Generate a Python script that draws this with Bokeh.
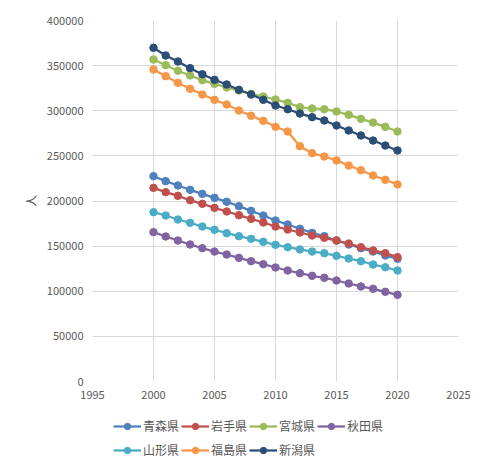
from bokeh.plotting import figure
from bokeh.layouts import column
from bokeh.models import Range1d, FixedTicker, NumeralTickFormatter, Legend, LegendItem
from bokeh.embed import file_html
from bokeh.resources import INLINE

years = list(range(2000, 2021))

aomori = [227500, 222000, 217200, 212400, 207900, 203500, 199100, 194300, 189100, 183900, 178400,
          174000, 169200, 164700, 161000, 156200, 151800, 147700, 144000, 139600, 135900]
iwate = [214600, 209800, 205700, 200900, 196900, 192400, 188400, 184300, 180200, 176200, 171700,
         168400, 165100, 161800, 159200, 156200, 152900, 148800, 145200, 142200, 137800]
miyagi = [356800, 350500, 344300, 339100, 333900, 329800, 325800, 322400, 318800, 315800, 312500,
          308800, 304000, 302500, 301700, 299200, 295500, 291000, 286900, 282200, 277000]
akita = [165500, 160700, 156200, 151800, 147700, 144000, 140700, 137000, 133300, 130000, 126300,
         123000, 120000, 117100, 114900, 111900, 108600, 105300, 102700, 99400, 96000]
yamagata = [187600, 183900, 179500, 175800, 171700, 168100, 164400, 161000, 158100, 154800, 151400,
            148800, 146300, 144000, 142200, 139200, 136300, 133300, 129600, 126600, 123000]
fukushima = [345700, 338300, 330900, 324300, 318000, 312100, 306900, 300300, 294400, 288800, 282200,
             277000, 260700, 253000, 249300, 245000, 239300, 234100, 228300, 223500, 218300]
niigata = [369700, 361200, 354600, 347200, 340500, 334300, 329100, 323200, 318000, 312100, 305800,
           301700, 296900, 292900, 289200, 283700, 278100, 272600, 267000, 261500, 256000]

names = ["青森県", "岩手県", "宮城県", "秋田県", "山形県", "福島県", "新潟県"]
series = [aomori, iwate, miyagi, akita, yamagata, fukushima, niigata]
colors = ["#4F81BD", "#C0504D", "#9BBB59", "#8064A2", "#4BACC6", "#F79646", "#2C4D75"]

x_ticks = [1995, 2000, 2005, 2010, 2015, 2020, 2025]
y_ticks = [0, 50000, 100000, 150000, 200000, 250000, 300000, 350000, 400000]

FONT = "Noto Sans CJK JP"

p = figure(width=480, height=406, output_backend="svg", toolbar_location=None,
           x_range=Range1d(1995, 2025), y_range=Range1d(0, 400000),
           min_border_left=92, min_border_right=22, min_border_top=20, min_border_bottom=25)
p.outline_line_color = None
p.background_fill_color = "white"
p.border_fill_color = "white"

for ax in (p.xaxis, p.yaxis):
    ax.axis_line_color = None
    ax.major_tick_line_color = None
    ax.minor_tick_line_color = None
    ax.major_tick_out = 0
    ax.major_tick_in = 0
    ax.major_label_text_color = "#595959"
    ax.major_label_text_font = FONT
    ax.major_label_text_font_size = "11px"
    ax.major_label_standoff = 9

p.xaxis.ticker = FixedTicker(ticks=x_ticks)
p.yaxis.ticker = FixedTicker(ticks=y_ticks)
p.yaxis.formatter = NumeralTickFormatter(format="0")
p.yaxis.axis_label = "人"
p.yaxis.axis_label_text_font = FONT
p.yaxis.axis_label_text_font_size = "12px"
p.yaxis.axis_label_text_font_style = "normal"
p.yaxis.axis_label_text_color = "#595959"
p.yaxis.axis_label_standoff = 5

p.xgrid.ticker = FixedTicker(ticks=x_ticks)
p.ygrid.ticker = FixedTicker(ticks=y_ticks)
p.xgrid.grid_line_color = "#d9d9d9"
p.ygrid.grid_line_color = "#d9d9d9"

for vals, c in zip(series, colors):
    p.line(years, vals, line_color=c, line_width=2.25)
    p.scatter(years, vals, size=7.5, fill_color=c, line_color=c)

# legend panel: a separate figure whose ranges keep its series out of view,
# so only the legend swatches and labels are visible
lg = figure(width=480, height=60, output_backend="svg", toolbar_location=None,
            x_range=Range1d(0, 1), y_range=Range1d(0, 1),
            x_axis_type=None, y_axis_type=None,
            min_border_left=0, min_border_right=0, min_border_top=0, min_border_bottom=0)
lg.outline_line_color = None
lg.xgrid.visible = False
lg.ygrid.visible = False
lg.border_fill_color = "white"

items = []
for name, vals, c in zip(names, series, colors):
    l = lg.line(years, vals, line_color=c, line_width=2.25)
    s = lg.scatter(years, vals, size=7.5, fill_color=c, line_color=c)
    items.append(LegendItem(label=name, renderers=[l, s]))

common = dict(orientation="horizontal", padding=0, margin=0, spacing=2,
              glyph_width=28, glyph_height=16, label_height=16, label_standoff=2,
              label_text_font=FONT, label_text_font_size="12px", label_text_color="#595959",
              border_line_alpha=0, background_fill_alpha=0)
legend1 = Legend(items=items[:4], location=(21, 32), **common)
legend2 = Legend(items=items[4:], location=(21, 8), **common)
lg.add_layout(legend1, "center")
lg.add_layout(legend2, "center")

layout = column(p, lg, spacing=0)
open("out.html", "w").write(file_html(layout, INLINE))
